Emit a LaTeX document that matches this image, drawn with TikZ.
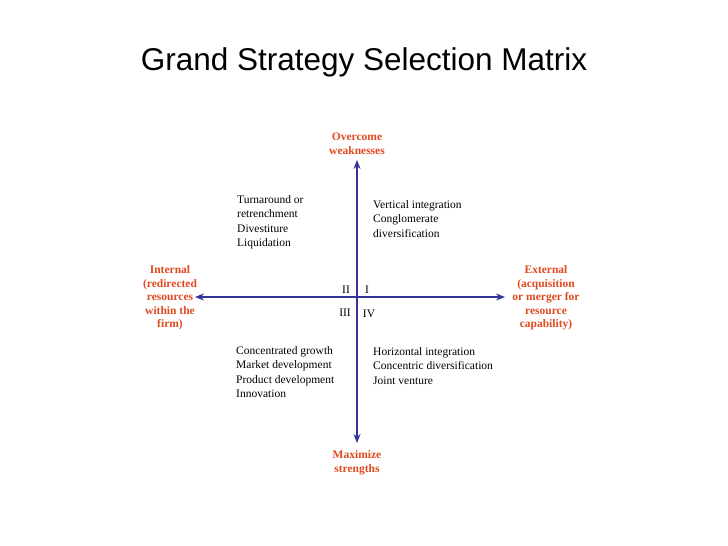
\documentclass[tikz,border=0pt]{standalone}
\usepackage{fontspec}
\setmainfont{Liberation Serif}
\newfontfamily\titlefont{Liberation Sans}
\usetikzlibrary{arrows.meta}
\definecolor{axisblue}{RGB}{51,51,153}
\definecolor{labelred}{RGB}{224,72,30}
\tikzset{
  axis/.style={axisblue, line width=1.6pt, {Stealth[length=9pt,width=7pt]}-{Stealth[length=9pt,width=7pt]}},
  pole/.style={labelred, font=\bfseries\fontsize{11.5}{13.5}\selectfont, align=center},
  cell/.style={font=\fontsize{11.5}{14.5}\selectfont, align=left, anchor=north west, inner sep=0pt},
  quad/.style={font=\fontsize{11.5}{12}\selectfont, inner sep=0pt}
}
\begin{document}
\begin{tikzpicture}[x=1pt,y=-1pt]
  \useasboundingbox (0,0) rectangle (728,546);
  % Title
  \node[font=\titlefont\fontsize{31.5}{36}\selectfont] (title) at (364,62) {Grand Strategy Selection Matrix};
  % Axes
  \coordinate (T) at (357,160);
  \coordinate (B) at (357,443);
  \coordinate (L) at (195,297);
  \coordinate (R) at (505,297);
  \draw[axis] (T) -- (B);
  \draw[axis] (L) -- (R);
  % Poles
  \node[pole, anchor=south] (top) at (357,158) {Overcome\\weaknesses};
  \node[pole, anchor=north] (bottom) at (357,447) {Maximize\\strengths};
  \node[pole] (left) at (170,298) {Internal\\(redirected\\resources\\within the\\firm)};
  \node[pole] (right) at (546,298) {External\\(acquisition\\or merger for\\resource\\capability)};
  % Quadrant numbers
  \node[quad] (qII) at (346,290) {II};
  \node[quad] (qI) at (367,290) {I};
  \node[quad] (qIII) at (345,313) {III};
  \node[quad] (qIV) at (369,314) {IV};
  % Cells
  \node[cell] (c2) at (237,195) {Turnaround or\\retrenchment\\Divestiture\\Liquidation};
  \node[cell] (c1) at (373,200) {Vertical integration\\Conglomerate\\diversification};
  \node[cell] (c3) at (236,346) {Concentrated growth\\Market development\\Product development\\Innovation};
  \node[cell] (c4) at (373,347) {Horizontal integration\\Concentric diversification\\Joint venture};
\end{tikzpicture}
\end{document}
